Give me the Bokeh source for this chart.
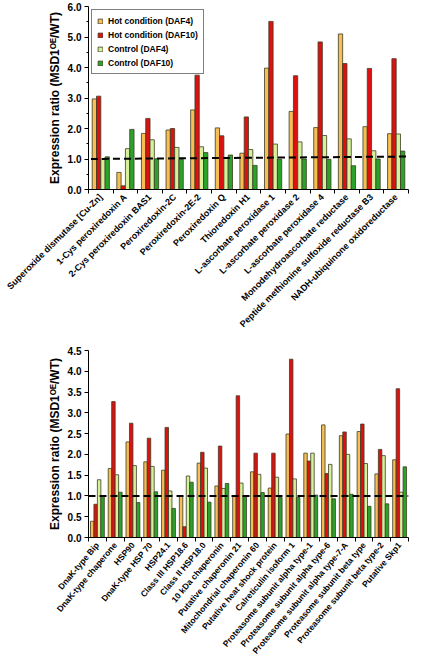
import math
from bokeh.plotting import figure
from bokeh.layouts import column
from bokeh.models import ColumnDataSource, FixedTicker, NumeralTickFormatter, Span, Legend, LegendItem
from bokeh.transform import dodge
from bokeh.embed import file_html
from bokeh.resources import INLINE

# ---------------- data ----------------
top_categories = [
    "Superoxide dismutase [Cu-Zn]", "1-Cys peroxiredoxin A", "2-Cys peroxiredoxin BAS1",
    "Peroxiredoxin-2C", "Peroxiredoxin-2E-2", "Peroxiredoxin Q", "Thioredoxin H1",
    "L-ascorbate peroxidase 1", "L-ascorbate peroxidase 2", "L-ascorbate peroxidase 4",
    "Monodehydroascorbate reductase", "Peptide methionine sulfoxide reductase B3",
    "NADH-ubiquinone oxidoreductase",
]
top_hot_daf4 = [2.97, 0.56, 1.84, 1.95, 2.61, 2.02, 1.19, 3.98, 2.56, 2.03, 5.10, 2.06, 1.83]
top_hot_daf10 = [3.06, 0.12, 2.33, 2.00, 3.75, 1.76, 2.38, 5.51, 3.73, 4.84, 4.13, 3.97, 4.29]
top_ctl_daf4 = [1.00, 1.34, 1.63, 1.38, 1.40, 1.05, 1.31, 1.49, 1.56, 1.77, 1.66, 1.27, 1.82]
top_ctl_daf10 = [1.07, 1.97, 1.01, 0.99, 1.21, 1.13, 0.79, 0.99, 1.00, 0.99, 0.78, 1.00, 1.26]
top_ref_line = [1.0, 1.08]
top_yticks = [0, 1, 2, 3, 4, 5, 6]
top_yminor = [0.5, 1.5, 2.5, 3.5, 4.5, 5.5]

bot_categories = [
    "DnaK-type Bip", "DnaK-type chaperone", "HSP90", "DnaK-type HSP 70", "HSP24.1",
    "Class III HSP18.6", "Class II HSP18.0", "10 kDa chaperonin", "Putative chaperonin 21",
    "Mitochondrial chaperonin 60", "Putative heat shock protein", "Calreticulin isoform 1",
    "Proteasome subunit alpha type-1", "Proteasome subunit alpha type-6",
    "Proteasome subunit alpha type-7-A", "Proteasome subunit beta type",
    "Proteasome subunit beta type-2", "Putative Skp1",
]
bot_hot_daf4 = [0.39, 1.66, 2.30, 1.82, 1.62, 1.01, 1.79, 1.24, 1.01, 1.58, 1.19, 2.49, 2.03, 2.71, 2.45, 2.55, 1.53, 1.87]
bot_hot_daf10 = [0.80, 3.27, 2.75, 2.39, 2.65, 0.26, 2.05, 2.20, 3.41, 2.03, 2.03, 4.29, 1.84, 1.54, 2.54, 2.73, 2.12, 3.58]
bot_ctl_daf4 = [1.39, 1.51, 1.73, 1.71, 1.12, 1.48, 1.67, 1.18, 1.31, 1.52, 1.45, 1.41, 2.03, 1.76, 2.00, 1.78, 1.97, 1.09]
bot_ctl_daf10 = [1.01, 1.09, 0.84, 1.10, 0.70, 1.33, 0.85, 1.30, 1.01, 1.08, 0.96, 0.96, 1.02, 0.93, 1.04, 0.75, 0.81, 1.70]
bot_ref_line = 1.0
bot_yticks = [0, 0.5, 1.0, 1.5, 2.0, 2.5, 3.0, 3.5, 4.0, 4.5]

series_names = ["Hot condition (DAF4)", "Hot condition (DAF10)", "Control (DAF4)", "Control (DAF10)"]
series_colors = ["#F6BE55", "#DD1111", "#D6F09C", "#2BA32B"]

FONT = "Liberation Sans"
YLABEL = "Expression ratio (MSD1\u1D3C\u1D31/WT)"


def make_panel(cats, series, height, width, yticks, yminor, ymax, bw, borders,
               tick_font, xlab_font, ylab_font, angle):
    n = len(cats)
    idx = list(range(n))
    data = {"idx": idx}
    keys = ["s0", "s1", "s2", "s3"]
    for k, vals in zip(keys, series):
        data[k] = vals
    src = ColumnDataSource(data)
    bt, br, bb, bl = borders
    p = figure(width=width, height=height, output_backend="svg", toolbar_location=None,
               x_range=(-0.5, n - 0.5), y_range=(0, ymax),
               min_border_top=bt, min_border_right=br, min_border_bottom=bb, min_border_left=bl)
    p.outline_line_color = None
    p.xgrid.visible = False
    p.ygrid.visible = False
    renderers = []
    for j, (k, col) in enumerate(zip(keys, series_colors)):
        r = p.vbar(x=dodge("idx", (j - 1.5) * bw, range=p.x_range), top=k, width=bw,
                   source=src, fill_color=col, line_color="#3d3d25", line_width=0.8)
        renderers.append(r)
    # axes
    p.xaxis.ticker = FixedTicker(ticks=idx, minor_ticks=[i - 0.5 for i in range(n + 1)])
    p.xaxis.major_label_overrides = {i: c for i, c in enumerate(cats)}
    p.xaxis.major_label_orientation = angle
    p.xaxis.major_tick_out = 0
    p.xaxis.major_tick_in = 0
    p.xaxis.minor_tick_out = 4
    p.xaxis.minor_tick_in = 0
    p.xaxis.major_label_standoff = 2
    p.xaxis.major_label_text_font = FONT
    p.xaxis.major_label_text_font_style = "bold"
    p.xaxis.major_label_text_font_size = xlab_font
    p.xaxis.major_label_text_color = "black"
    p.yaxis.ticker = FixedTicker(ticks=yticks, minor_ticks=yminor)
    p.yaxis.formatter = NumeralTickFormatter(format="0.0")
    p.yaxis.major_tick_out = 4
    p.yaxis.major_tick_in = 0
    p.yaxis.minor_tick_out = 2
    p.yaxis.minor_tick_in = 0
    p.yaxis.major_label_standoff = 3
    p.yaxis.major_label_text_font = FONT
    p.yaxis.major_label_text_font_style = "bold"
    p.yaxis.major_label_text_font_size = tick_font
    p.yaxis.major_label_text_color = "black"
    p.yaxis.axis_label = YLABEL
    p.yaxis.axis_label_text_font = FONT
    p.yaxis.axis_label_text_font_style = "bold"
    p.yaxis.axis_label_text_font_size = ylab_font
    p.yaxis.axis_label_text_color = "black"
    p.yaxis.axis_label_standoff = 3
    for ax in (p.xaxis, p.yaxis):
        ax.axis_line_color = "black"
        ax.major_tick_line_color = "black"
        ax.minor_tick_line_color = "black"
    return p, renderers, idx


top, top_r, top_idx = make_panel(top_categories, [top_hot_daf4, top_hot_daf10, top_ctl_daf4, top_ctl_daf10],
                                 height=335, width=431, yticks=top_yticks, yminor=top_yminor, ymax=6.0,
                                 bw=0.175, borders=(6, 23, 144, 88),
                                 tick_font="10px", xlab_font="9px", ylab_font="12px", angle=math.pi / 4)
top.segment(x0=[top_idx[0] - 0.4], y0=[top_ref_line[0]], x1=[top_idx[-1] + 0.4], y1=[top_ref_line[1]],
            line_color="black", line_width=2, line_dash="7 4")
legend = Legend(items=[LegendItem(label=nm, renderers=[r]) for nm, r in zip(series_names, top_r)],
                location="top_left")
legend.margin = 3
legend.padding = 5
legend.spacing = 3
legend.glyph_width = 6
legend.glyph_height = 6
legend.label_height = 11
legend.label_standoff = 5
legend.label_text_font = FONT
legend.label_text_font_style = "bold"
legend.label_text_font_size = "8.5px"
legend.label_text_color = "black"
legend.border_line_color = "black"
legend.border_line_width = 1
legend.background_fill_alpha = 1
top.add_layout(legend)

bot, bot_r, bot_idx = make_panel(bot_categories, [bot_hot_daf4, bot_hot_daf10, bot_ctl_daf4, bot_ctl_daf10],
                                 height=326, width=431, yticks=bot_yticks, yminor=[], ymax=4.5,
                                 bw=0.195, borders=(15, 1, 112, 43),
                                 tick_font="10px", xlab_font="8.5px", ylab_font="12px", angle=0.87)
bot.add_layout(Span(location=bot_ref_line, dimension="width", line_color="black",
                    line_width=2, line_dash="7 4"))

layout = column(top, bot, spacing=0)
open("out.html", "w").write(file_html(layout, INLINE))
